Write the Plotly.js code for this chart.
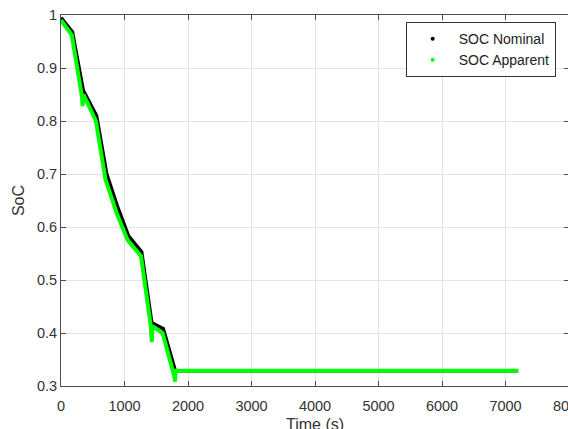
<!DOCTYPE html>
<html>
<head>
<meta charset="utf-8">
<script src="https://cdn.plot.ly/plotly-3.0.1.min.js"></script>
<style>
html,body{margin:0;padding:0;overflow:hidden;background:#fff;}
#chart{width:575px;height:445px;}
</style>
</head>
<body>
<div id="chart"></div>
<script>
// Nominal state of charge
const timeNominal = [0, 180, 350, 560, 720, 900, 1060, 1270, 1430, 1610, 1800, 7200];
const socNominal  = [0.995, 0.968, 0.858, 0.810, 0.700, 0.635, 0.584, 0.553, 0.419, 0.408, 0.329, 0.329];
// Apparent state of charge
const timeApparent = [0, 170, 330, 340, 355, 550, 700, 880, 1050, 1260, 1415, 1430, 1440, 1600, 1785, 1795, 1805, 7200];
const socApparent  = [0.99, 0.962, 0.846, 0.828, 0.850, 0.800, 0.690, 0.625, 0.575, 0.545, 0.413, 0.383, 0.413, 0.400, 0.318, 0.308, 0.329, 0.329];
const xTicks = [0, 1000, 2000, 3000, 4000, 5000, 6000, 7000, 8000];
const yTicks = [0.3, 0.4, 0.5, 0.6, 0.7, 0.8, 0.9, 1];
const yTickText = ['0.3', '0.4', '0.5', '0.6', '0.7', '0.8', '0.9', '1'];
const seriesNames = ['SOC Nominal', 'SOC Apparent'];

const font = 'Liberation Sans, Arial, sans-serif';
const traces = [
  {x: timeNominal, y: socNominal, mode: 'lines', line: {color: '#000000', width: 3.5}, showlegend: false, hoverinfo: 'skip'},
  {x: timeApparent, y: socApparent, mode: 'lines', line: {color: '#00ff00', width: 4}, showlegend: false, hoverinfo: 'skip'},
  {x: [null], y: [null], mode: 'markers', name: seriesNames[0], marker: {color: '#000000', size: 4}},
  {x: [null], y: [null], mode: 'markers', name: seriesNames[1], marker: {color: '#00ff00', size: 4}}
];
const axisCommon = {
  showline: true, linecolor: '#4d4d4d', linewidth: 1, mirror: 'ticks',
  ticks: 'inside', ticklen: 5, tickcolor: '#4d4d4d', tickwidth: 1,
  showgrid: true, gridcolor: '#e3e3e3', gridwidth: 1, zeroline: false,
  ticklabeloverflow: 'allow',
  tickfont: {family: font, size: 14.5, color: '#333333'}
};
const layout = {
  width: 575, height: 445,
  margin: {l: 61, r: 6, t: 15, b: 59},
  paper_bgcolor: '#ffffff', plot_bgcolor: '#ffffff',
  xaxis: Object.assign({}, axisCommon, {
    range: [0, 8000], tickvals: xTicks, ticktext: xTicks.map(String), ticklabelstandoff: 7,
    title: {text: 'Time (s)', font: {family: font, size: 16, color: '#333333'}, standoff: 5}
  }),
  yaxis: Object.assign({}, axisCommon, {
    range: [0.3, 1], tickvals: yTicks, ticktext: yTickText,
    title: {text: 'SoC', font: {family: font, size: 16, color: '#333333'}, standoff: 8}
  }),
  legend: {
    x: 0.6785, y: 0.981, xanchor: 'left', yanchor: 'top',
    bgcolor: '#ffffff', bordercolor: '#333333', borderwidth: 1,
    font: {family: font, size: 14, color: '#222222'}, itemwidth: 42, tracegroupgap: 0
  },
  showlegend: true
};
Plotly.newPlot('chart', traces, layout, {displayModeBar: false, staticPlot: true});
</script>
</body>
</html>
